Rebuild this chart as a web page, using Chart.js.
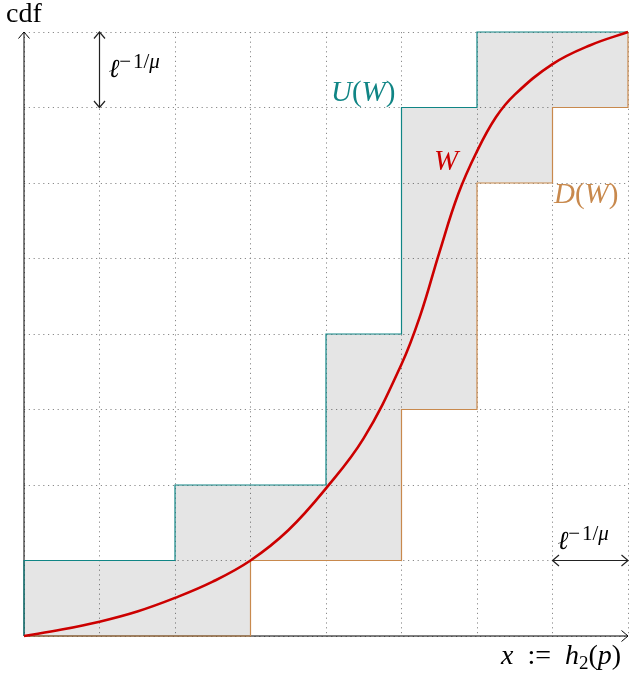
<!DOCTYPE html>
<html>
<head>
<meta charset="utf-8">
<script src="https://cdn.jsdelivr.net/npm/chart.js@4"></script>
<style>
html, body { margin: 0; padding: 0; background: #fff; }
#wrap { width: 629px; height: 677px; }
</style>
</head>
<body>
<div id="wrap"><canvas id="cdf"></canvas></div>
<script>
// grid steps (both axes go 0..8 in units of l^{-1/mu})
const gridTicks = [0, 1, 2, 3, 4, 5, 6, 7, 8];

// U(W): upper staircase
const upperX = [0, 0, 2, 2, 4, 4, 5, 5, 6, 6, 8];
const upperY = [0, 1, 1, 2, 2, 4, 4, 7, 7, 8, 8];

// D(W): lower staircase
const lowerX = [0, 3, 3, 5, 5, 6, 6, 7, 7, 8, 8];
const lowerY = [0, 0, 1, 1, 3, 3, 6, 6, 7, 7, 8];

// W: the cdf curve
const curveX = [0, 0.5, 1, 1.5, 2, 2.5, 3, 3.5, 4, 4.5, 5, 5.25, 5.5, 5.75, 6, 6.25, 6.5, 7, 7.5, 8];
const curveY = [0, 0.085, 0.19, 0.325, 0.505, 0.72, 1.0, 1.4, 1.955, 2.62, 3.6, 4.25, 5.075, 5.85, 6.42, 6.87, 7.17, 7.575, 7.825, 8];

const TEAL = '#108585';
const TAN = '#c8894d';
const RED = '#cc0000';
const SERIF = '"Liberation Serif", "DejaVu Serif", serif';

function pts(xs, ys) {
    return xs.map((x, i) => ({ x: x, y: ys[i] }));
}

function arrowHead(ctx, x, y, ang) {
    const len = 6.5, half = 5.5;
    ctx.save();
    ctx.translate(x, y);
    ctx.rotate(ang);
    ctx.beginPath();
    ctx.moveTo(-len, -half);
    ctx.quadraticCurveTo(-len * 0.2, -half * 0.2, 0, 0);
    ctx.quadraticCurveTo(-len * 0.2, half * 0.2, -len, half);
    ctx.stroke();
    ctx.restore();
}

function seg(ctx, x1, y1, x2, y2) {
    ctx.beginPath();
    ctx.moveTo(x1, y1);
    ctx.lineTo(x2, y2);
    ctx.stroke();
}

// draw a run of pieces: [text, italic, size, raise]
function mathText(ctx, x, base, parts, color) {
    ctx.fillStyle = color;
    ctx.textBaseline = 'alphabetic';
    ctx.textAlign = 'left';
    for (const p of parts) {
        ctx.font = (p[1] ? 'italic ' : '') + p[2] + 'px ' + SERIF;
        ctx.fillText(p[0], x, base - (p[3] || 0));
        x += ctx.measureText(p[0]).width;
    }
}

function ellLabel(ctx, x, base) {
    mathText(ctx, x, base, [
        ['\u2113', true, 26, 0],
        ['\u2212\u200a', false, 21, 9],
        ['1/', false, 21, 9],
        ['\u03bc', true, 21, 9]
    ], '#000');
}

const decorations = {
    id: 'decorations',
    beforeDatasetsDraw(chart) {
        const { ctx, chartArea: a } = chart;
        ctx.save();
        ctx.strokeStyle = '#000';
        ctx.lineWidth = 1;
        seg(ctx, a.left, a.bottom, a.right, a.bottom);
        arrowHead(ctx, a.right, a.bottom, 0);
        seg(ctx, a.left, a.bottom, a.left, a.top);
        arrowHead(ctx, a.left, a.top, -Math.PI / 2);
        ctx.restore();
    },
    afterDatasetsDraw(chart) {
        const { ctx } = chart;
        const xs = chart.scales.x, ys = chart.scales.y;
        ctx.save();
        ctx.strokeStyle = '#222';
        ctx.lineWidth = 1.2;

        // vertical dimension arrow at x = 1, between y = 7 and 8
        const vx = xs.getPixelForValue(1);
        const vTop = ys.getPixelForValue(8), vBot = ys.getPixelForValue(7);
        seg(ctx, vx, vTop, vx, vBot);
        arrowHead(ctx, vx, vTop, -Math.PI / 2);
        arrowHead(ctx, vx, vBot, Math.PI / 2);
        ellLabel(ctx, vx + 9, 77);

        // horizontal dimension arrow at y = 1, between x = 7 and 8
        const hy = ys.getPixelForValue(1);
        const hL = xs.getPixelForValue(7), hR = xs.getPixelForValue(8);
        seg(ctx, hL, hy, hR, hy);
        arrowHead(ctx, hL, hy, Math.PI);
        arrowHead(ctx, hR, hy, 0);
        ellLabel(ctx, hL + 5, 549);

        mathText(ctx, 6, 22, [['cdf', false, 28, 0]], '#000');
        mathText(ctx, 331, 101, [['U', true, 29], ['(', false, 29], ['W', true, 29], [')', false, 29]], TEAL);
        mathText(ctx, 434, 170, [['W', true, 29]], RED);
        mathText(ctx, 554, 203, [['D', true, 29], ['(', false, 29], ['W', true, 29], [')', false, 29]], TAN);
        mathText(ctx, 501, 664, [
            ['x', true, 28], ['\u2002:=\u2002', false, 28], ['h', true, 28], ['2', false, 19, -5],
            ['(', false, 28], ['p', true, 28], [')', false, 28]
        ], '#000');
        ctx.restore();
    }
};

const axisOpts = {
    type: 'linear',
    min: 0,
    max: 8,
    afterBuildTicks: scale => { scale.ticks = gridTicks.map(v => ({ value: v })); },
    ticks: { display: false, padding: 0 },
    grid: { color: '#8a8a8a', lineWidth: 1, drawTicks: false },
    border: { display: false, dash: [1.2, 3.6] }
};

new Chart(document.getElementById('cdf'), {
    type: 'line',
    data: {
        datasets: [
            {
                label: 'U(W)',
                data: pts(upperX, upperY),
                borderColor: TEAL,
                borderWidth: 1.2,
                backgroundColor: 'rgba(0,0,0,0.1)',
                fill: 1,
                pointRadius: 0,
                tension: 0,
                order: 2,
                clip: 6
            },
            {
                label: 'D(W)',
                data: pts(lowerX, lowerY),
                borderColor: TAN,
                borderWidth: 1.2,
                fill: false,
                pointRadius: 0,
                tension: 0,
                order: 1,
                clip: 6
            },
            {
                label: 'W',
                data: pts(curveX, curveY),
                borderColor: RED,
                borderWidth: 2.6,
                fill: false,
                pointRadius: 0,
                tension: 0.4,
                order: 0,
                clip: 6
            }
        ]
    },
    options: {
        responsive: true,
        maintainAspectRatio: false,
        animation: false,
        devicePixelRatio: 1,
        layout: { padding: { left: 24, top: 32, right: 1, bottom: 41 } },
        plugins: {
            legend: { display: false },
            tooltip: { enabled: false }
        },
        scales: {
            x: { ...axisOpts },
            y: { ...axisOpts }
        }
    },
    plugins: [decorations]
});
</script>
</body>
</html>
